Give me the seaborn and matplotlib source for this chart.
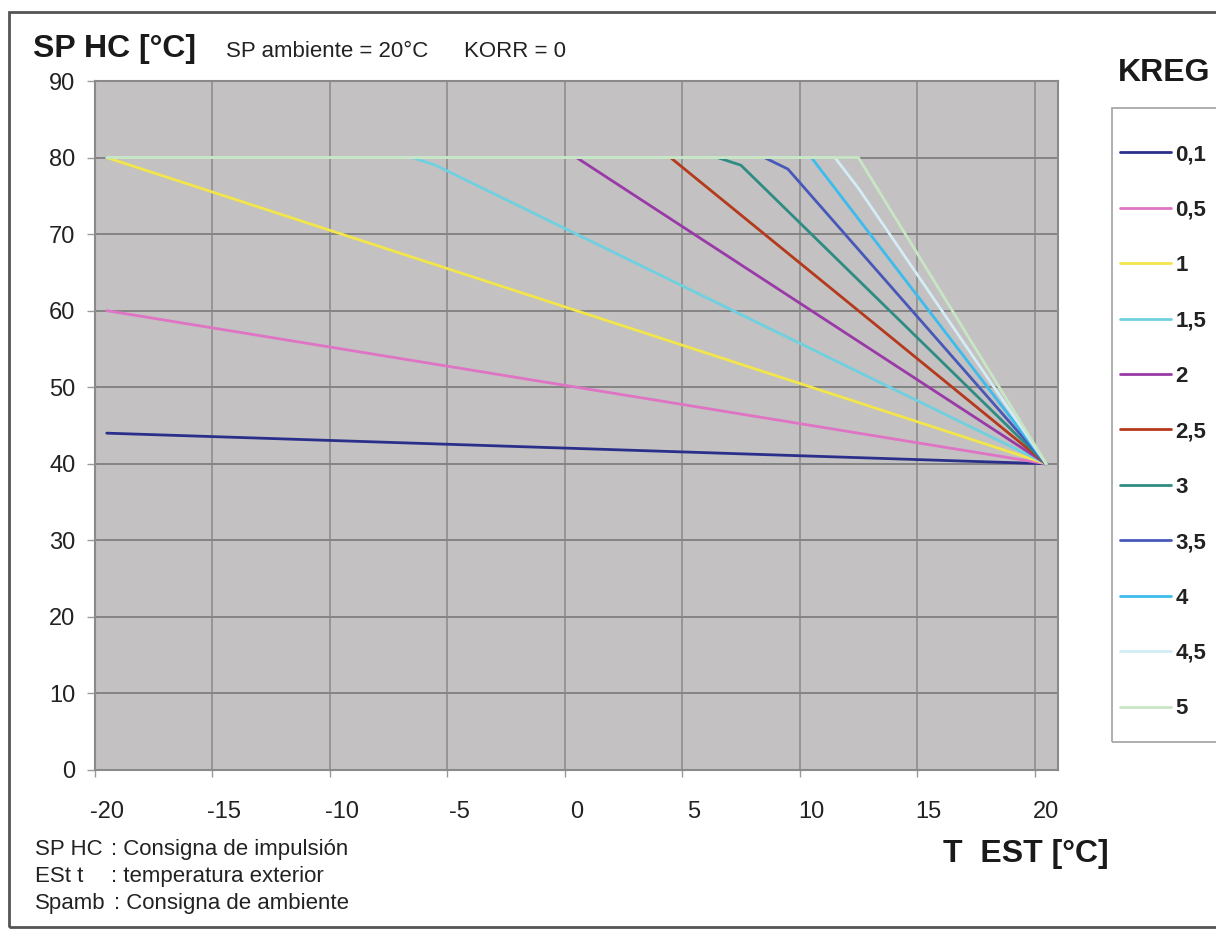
import numpy as np
import pandas as pd
import matplotlib
matplotlib.use("Agg")
import matplotlib.pyplot as plt
from matplotlib.patches import Rectangle
import seaborn as sns

W, H = 1216, 931

# --- data (breakpoints of each heating curve) ---
kreg_labels = ["0,1", "0,5", "1", "1,5", "2", "2,5", "3", "3,5", "4", "4,5", "5"]
x_01 = [-20, 20];               y_01 = [44, 40]
x_05 = [-20, 20];               y_05 = [60, 40]
x_1 = [-20, 20];                y_1 = [80, 40]
x_15 = [-20, -7, -6, 20];       y_15 = [80, 80, 79, 40]
x_2 = [-20, 0, 20];             y_2 = [80, 80, 40]
x_25 = [-20, 4, 20];            y_25 = [80, 80, 40]
x_3 = [-20, 6, 7, 20];          y_3 = [80, 80, 79, 40]
x_35 = [-20, 8, 9, 20];         y_35 = [80, 80, 78.5, 40]
x_4 = [-20, 10, 20];            y_4 = [80, 80, 40]
x_45 = [-20, 11, 12, 20];       y_45 = [80, 80, 76, 40]
x_5 = [-20, 12, 20];            y_5 = [80, 80, 40]

series_x = [x_01, x_05, x_1, x_15, x_2, x_25, x_3, x_35, x_4, x_45, x_5]
series_y = [y_01, y_05, y_1, y_15, y_2, y_25, y_3, y_35, y_4, y_45, y_5]

colors = ["#2b2f8c", "#e074c4", "#f2e64b", "#6fd0e0", "#9a3aa8", "#b5391c",
          "#2e8c84", "#4858b8", "#3cbcec", "#d4ecf6", "#c8e6c4"]

x_ticks = [-20, -15, -10, -5, 0, 5, 10, 15, 20]
y_ticks = [0, 10, 20, 30, 40, 50, 60, 70, 80, 90]

rows = []
for lab, xs, ys in zip(kreg_labels, series_x, series_y):
    for xv, yv in zip(xs, ys):
        rows.append({"KREG": lab, "T": xv, "SP": yv})
df = pd.DataFrame(rows)


def fx(px):
    return px / W


def fy(py):
    return 1 - py / H


sns.set_theme(style="white")
plt.rcParams["font.family"] = ["Liberation Sans", "DejaVu Sans"]

fig = plt.figure(figsize=(W / 100, H / 100), dpi=100)
fig.patch.set_facecolor("white")

left, right, top, bottom = 95, 1058, 81, 770
ax = fig.add_axes([fx(left), fy(bottom), fx(right) - fx(left), fy(top) - fy(bottom)])
ax.set_facecolor("#c3c1c1")

sns.lineplot(data=df, x="T", y="SP", hue="KREG", hue_order=kreg_labels,
             palette=dict(zip(kreg_labels, colors)), estimator=None,
             linewidth=2.0, ax=ax, legend=False)

ax.set_xlim(-20.5, 20.5)
ax.set_ylim(0, 90)
ax.set_xlabel("")
ax.set_ylabel("")

# category-style axis: labels at the values, grid lines between categories
ax.set_xticks(x_ticks)
ax.set_xticklabels([str(t) for t in x_ticks])
ax.set_xticks(np.arange(-20.5, 20, 5), minor=True)
ax.set_yticks(y_ticks)
ax.tick_params(axis="x", which="major", length=0, pad=22, labelsize=17, labelcolor="#222222")
ax.tick_params(axis="x", which="minor", length=5, width=1, color="#9a9a9a", bottom=True)
ax.tick_params(axis="y", which="major", length=6, width=1, color="#9a9a9a", pad=8,
               labelsize=17, labelcolor="#222222", left=True)

ax.grid(False)
ax.grid(True, axis="x", which="minor", color="#929292", linewidth=1.3)
ax.grid(True, axis="y", which="major", color="#848484", linewidth=1.4)
ax.set_axisbelow(True)
for s in ax.spines.values():
    s.set_color("#8a8a8a")
    s.set_linewidth(1.5)

# legend with separate frame (box runs past the right edge)
handles = [plt.Line2D([], [], color=c, linewidth=2.0) for c in colors]
leg = fig.legend(handles, kreg_labels, loc="upper left",
                 bbox_to_anchor=(fx(1120), fy(144)), frameon=False,
                 prop={"weight": "bold", "size": 16}, handlelength=2.3,
                 handletextpad=0.2, labelspacing=1.55, borderpad=0, borderaxespad=0)
for t in leg.get_texts():
    t.set_color("#222222")
fig.patches.append(Rectangle((fx(1112), fy(742)), fx(1240) - fx(1112), fy(108) - fy(742),
                             transform=fig.transFigure, facecolor="none",
                             edgecolor="#a8a8a8", linewidth=1.3))

# outer frame
fig.patches.append(Rectangle((fx(9), fy(927)), fx(1240) - fx(9), fy(12) - fy(927),
                             transform=fig.transFigure, facecolor="none",
                             edgecolor="#555555", linewidth=2.0))

# texts
fig.text(fx(33), fy(57), "SP HC [°C]", fontsize=23, fontweight="bold", color="#1a1a1a",
         va="baseline", ha="left")
fig.text(fx(226), fy(57), "SP ambiente = 20°C", fontsize=16, color="#222222",
         va="baseline", ha="left")
fig.text(fx(464), fy(57), "KORR = 0", fontsize=16, color="#222222",
         va="baseline", ha="left")
fig.text(fx(1118), fy(81), "KREG", fontsize=23, fontweight="bold", color="#1a1a1a",
         va="baseline", ha="left")
fig.text(fx(943), fy(862), "T  EST [°C]", fontsize=23, fontweight="bold", color="#1a1a1a",
         va="baseline", ha="left")

foot_keys = ["SP HC", "ESt t", "Spamb"]
foot_vals = [": Consigna de impulsión", ": temperatura exterior", ": Consigna de ambiente"]
foot_y = [855, 882, 909]
foot_colon_x = [111, 111, 114]
for k, v, yy, cx in zip(foot_keys, foot_vals, foot_y, foot_colon_x):
    fig.text(fx(35), fy(yy), k, fontsize=16, color="#222222", va="baseline", ha="left")
    fig.text(fx(cx), fy(yy), v, fontsize=16, color="#222222", va="baseline", ha="left")

fig.savefig("out.png", dpi=100, facecolor="white")
